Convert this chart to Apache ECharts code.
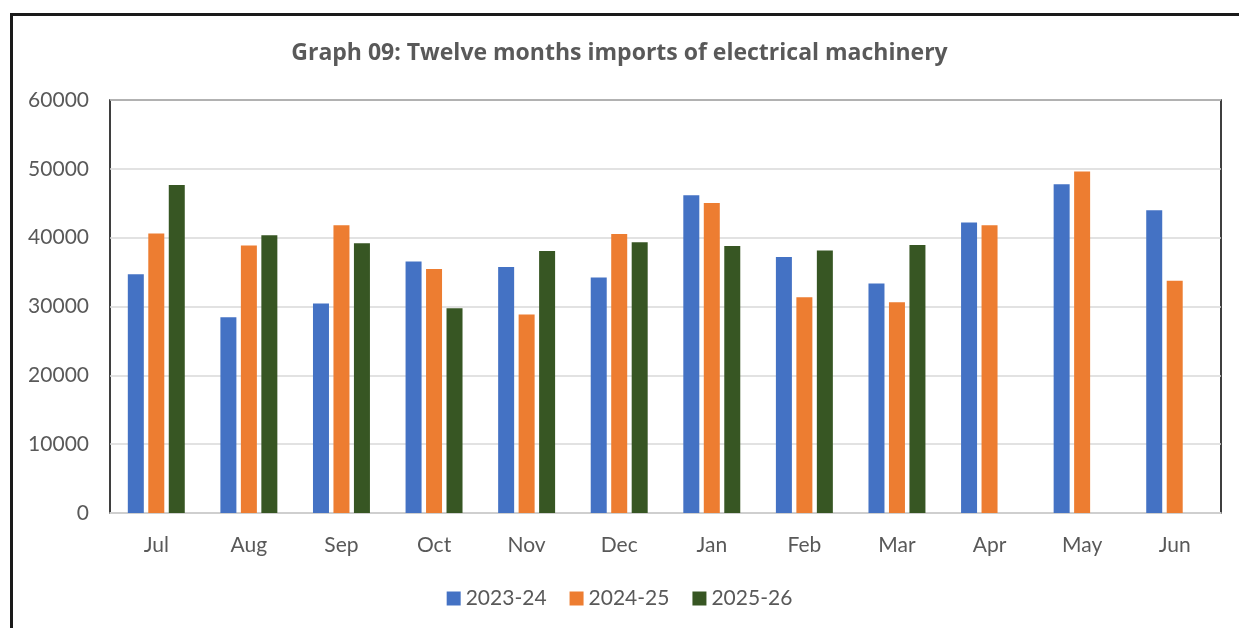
<!DOCTYPE html>
<html>
<head>
<meta charset="utf-8">
<script src="https://cdn.jsdelivr.net/npm/echarts@6/dist/echarts.min.js"></script>
<style>
html, body { margin: 0; padding: 0; background: #fff; }
#plot { width: 1239px; height: 628px; }
</style>
</head>
<body>
<div id="plot"></div>
<script>
// data
var months = ['Jul', 'Aug', 'Sep', 'Oct', 'Nov', 'Dec', 'Jan', 'Feb', 'Mar', 'Apr', 'May', 'Jun'];
var fy2324 = [34700, 28450, 30450, 36550, 35750, 34200, 46150, 37200, 33350, 42200, 47750, 44000];
var fy2425 = [40600, 38850, 41800, 35450, 28850, 40550, 45050, 31350, 30600, 41800, 49600, 33750];
var fy2526 = [47650, 40350, 39200, 29750, 38050, 39350, 38800, 38150, 38950, null, null, null];
var seriesNames = ['2023-24', '2024-25', '2025-26'];
var yTicks = { min: 0, max: 60000, step: 10000 };

var FONT = 'Lato';
var GREY = '#595959';

var chart = echarts.init(document.getElementById('plot'));

function bar(name, data, color) {
    return {
        name: name,
        type: 'bar',
        data: data,
        barWidth: 16,
        barGap: '28%',
        itemStyle: { color: color },
        emphasis: { disabled: true }
    };
}

chart.setOption({
    animation: false,
    textStyle: { fontFamily: FONT },
    title: {
        text: 'Graph 09: Twelve months imports of electrical machinery',
        left: 'center',
        top: 37,
        textStyle: { fontFamily: 'Open Sans', fontSize: 23, fontWeight: 'bold', color: GREY }
    },
    // outer frame, only the left and top edges are visible
    graphic: [{
        type: 'polyline',
        shape: { points: [[11.5, 628], [11.5, 14.5], [1239, 14.5]] },
        style: { stroke: '#1a1a1a', lineWidth: 3, fill: null },
        silent: true
    }],
    legend: {
        bottom: 14,
        left: 'center',
        itemWidth: 14,
        itemHeight: 14,
        itemGap: 23,
        icon: 'rect',
        textStyle: { fontFamily: FONT, fontSize: 21, color: GREY }
    },
    grid: {
        left: 110,
        right: 18,
        top: 100,
        bottom: 115,
        show: true,
        borderColor: '#000',
        borderWidth: 1.5,
        backgroundColor: '#fff'
    },
    xAxis: {
        type: 'category',
        data: months,
        axisLine: { lineStyle: { color: '#d9d9d9', width: 1.5 } },
        axisTick: { show: false },
        axisLabel: { fontFamily: FONT, fontSize: 21, color: GREY, margin: 22 }
    },
    yAxis: {
        type: 'value',
        min: yTicks.min,
        max: yTicks.max,
        interval: yTicks.step,
        axisLine: { show: false },
        axisTick: { show: false },
        splitLine: { lineStyle: { color: '#d9d9d9', width: 1.5 } },
        axisLabel: {
            fontFamily: FONT, fontSize: 21, color: GREY, margin: 21,
            formatter: function (v) { return String(v); }
        }
    },
    series: [
        bar(seriesNames[0], fy2324, '#4472C4'),
        bar(seriesNames[1], fy2425, '#ED7D31'),
        bar(seriesNames[2], fy2526, '#375623')
    ]
});
</script>
</body>
</html>
